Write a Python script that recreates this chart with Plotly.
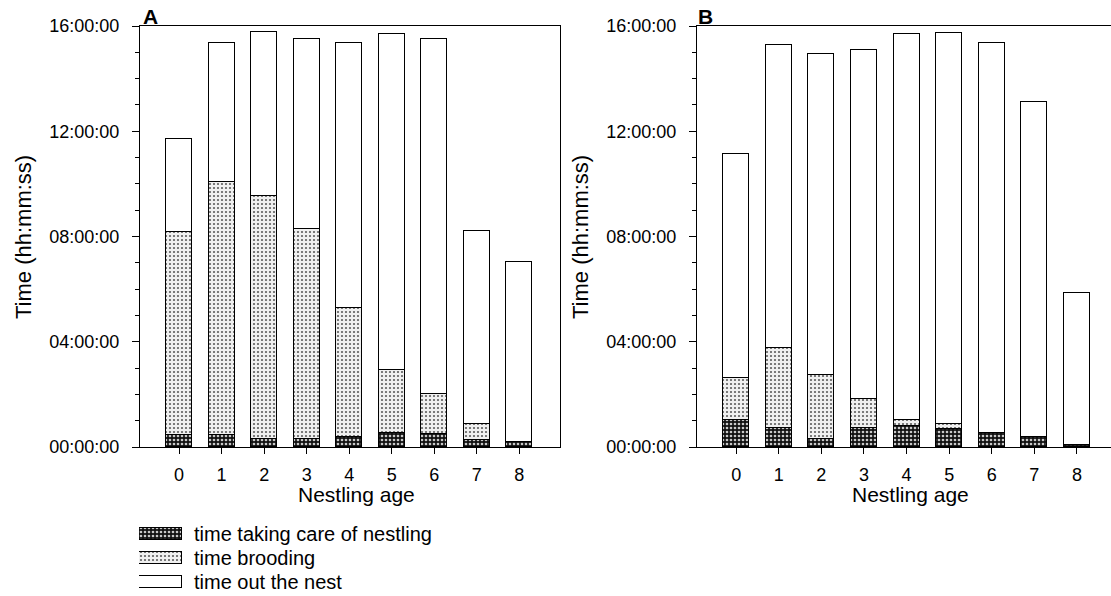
import plotly.graph_objects as go

# ---------------- data (hours) ----------------
ages = [0, 1, 2, 3, 4, 5, 6, 7, 8]

# Panel A
a_care = [0.46, 0.46, 0.30, 0.29, 0.38, 0.52, 0.48, 0.27, 0.18]
a_brood = [7.72, 9.60, 9.25, 8.00, 4.91, 2.41, 1.52, 0.60, 0.00]
a_out = [3.51, 5.31, 6.21, 7.21, 10.08, 12.77, 13.50, 7.35, 6.86]

# Panel B
b_care = [1.03, 0.73, 0.30, 0.73, 0.81, 0.68, 0.52, 0.37, 0.09]
b_brood = [1.60, 3.02, 2.44, 1.09, 0.22, 0.18, 0.00, 0.00, 0.00]
b_out = [8.49, 11.53, 12.18, 13.27, 14.66, 14.89, 14.85, 12.75, 5.75]

y_tickvals = [0, 4, 8, 12, 16]
y_ticktext = ["00:00:00", "04:00:00", "08:00:00", "12:00:00", "16:00:00"]

legend_labels = ["time taking care of nestling", "time brooding", "time out the nest"]

# ---------------- styles ----------------
W, H = 1111, 596
FONT = "Arial, Liberation Sans, sans-serif"
LINE = dict(color="black", width=1.5)

styles = {
    "care": dict(color="#1a1a1a",
                 pattern=dict(shape=".", bgcolor="#111111", fgcolor="#c8c8c8",
                              size=4, solidity=0.35, fillmode="replace")),
    "brood": dict(color="#eeeeee",
                  pattern=dict(shape=".", bgcolor="#f0f0f0", fgcolor="#5e5e5e",
                               size=4, solidity=0.24, fillmode="replace")),
    "out": dict(color="white"),
}


def px_x(p):
    return p / W


def px_y(p):
    return 1 - p / H


fig = go.Figure()

BAR_W = 0.61
for (care, brood, out, xa, ya) in [(a_care, a_brood, a_out, "x", "y"),
                                   (b_care, b_brood, b_out, "x2", "y2")]:
    for key, vals in [("care", care), ("brood", brood), ("out", out)]:
        st = styles[key]
        marker = dict(color=st["color"], line=LINE)
        if "pattern" in st:
            marker["pattern"] = st["pattern"]
        fig.add_trace(go.Bar(x=ages, y=vals, width=BAR_W, marker=marker,
                             xaxis=xa, yaxis=ya, showlegend=False))

# legend swatches drawn as bars on a tiny auxiliary axis
legend_rows = [0, 1, 2]
for i, key in enumerate(["care", "brood", "out"]):
    st = styles[key]
    marker = dict(color=st["color"], line=LINE)
    if "pattern" in st:
        marker["pattern"] = st["pattern"]
    fig.add_trace(go.Bar(x=[1], y=[legend_rows[i]], orientation="h", width=0.46,
                         marker=marker, xaxis="x3", yaxis="y3", showlegend=False))

y_top, y_bot = 26, 447
common_y = dict(range=[0, 16], tickvals=y_tickvals, ticktext=y_ticktext,
                showline=True, linecolor="black", linewidth=1.3,
                ticks="outside", ticklen=7, tickwidth=1.2, tickcolor="black",
                minor=dict(dtick=1, ticks="outside", ticklen=4, tickcolor="black", tickwidth=1),
                showgrid=False, zeroline=False,
                tickfont=dict(family=FONT, size=18, color="black"),
                ticklabelstandoff=9, automargin=False,
                domain=[px_y(y_bot), px_y(y_top)])
common_x = dict(tickvals=ages, showline=True, linecolor="black", linewidth=1.3,
                ticks="outside", ticklen=6, tickwidth=1.2, tickcolor="black",
                showgrid=False, zeroline=False,
                tickfont=dict(family=FONT, size=18, color="black"),
                ticklabelstandoff=5, automargin=False, mirror=True)


def ann(text, x, y, size, angle=0, xanchor="center"):
    return dict(text=text, x=px_x(x), y=px_y(y), xref="paper", yref="paper",
                xanchor=xanchor, yanchor="middle", textangle=angle,
                showarrow=False, font=dict(family=FONT, size=size, color="black"))


legend_y = [534, 558, 582]

fig.update_layout(
    width=W, height=H,
    margin=dict(l=0, r=0, t=0, b=0),
    paper_bgcolor="white", plot_bgcolor="white",
    barmode="stack", bargap=0,
    font=dict(family=FONT, color="black"),
    xaxis=dict(common_x, domain=[px_x(140), px_x(560)], range=[-0.92, 8.96], anchor="y"),
    yaxis=dict(common_y, anchor="x", mirror=True),
    xaxis2=dict(common_x, domain=[px_x(697), 1.0], range=[-0.92, 8.8], anchor="y2"),
    yaxis2=dict(common_y, anchor="x2", mirror=False),
    xaxis3=dict(domain=[px_x(139), px_x(182)], range=[0, 1], visible=False, anchor="y3",
                fixedrange=True),
    yaxis3=dict(domain=[px_y(594), px_y(522)], anchor="x3", range=[2.5, -0.5],
                visible=False, fixedrange=True),
    annotations=[
        ann("<b>A</b>", 150, 17, 21),
        ann("<b>B</b>", 705, 17, 21),
        ann("Time (hh:mm:ss)", 23, 237, 22, angle=-90),
        ann("Time (hh:mm:ss)", 580, 237, 22, angle=-90),
        ann("Nestling age", 356, 494, 21),
        ann("Nestling age", 910, 494, 21),
    ] + [ann(lbl, 192, yy, 20, xanchor="left") for lbl, yy in zip(legend_labels, legend_y)],
)

fig.write_html("out.html")
